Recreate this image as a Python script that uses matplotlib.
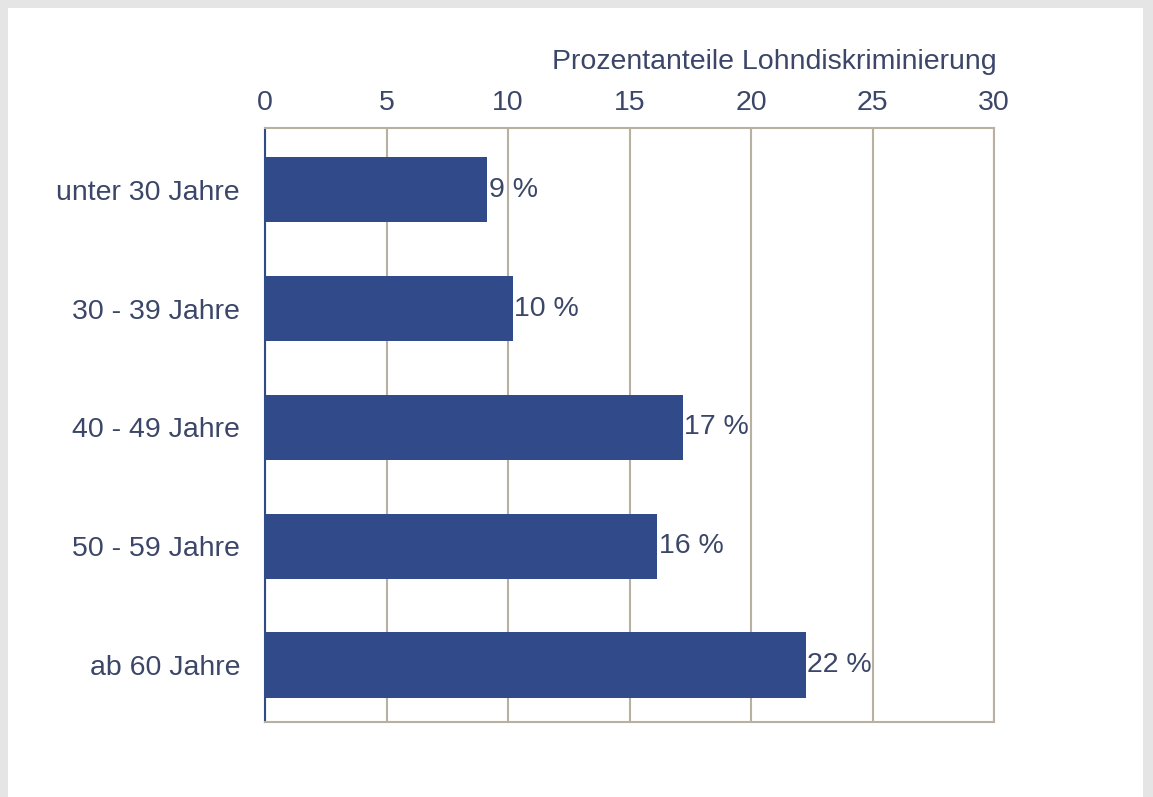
import matplotlib
matplotlib.use("Agg")
import matplotlib.pyplot as plt
from matplotlib.patches import Rectangle

categories = ["unter 30 Jahre", "30 - 39 Jahre", "40 - 49 Jahre", "50 - 59 Jahre", "ab 60 Jahre"]
values = [9.15, 10.2, 17.2, 16.15, 22.25]
labels = ["9 %", "10 %", "17 %", "16 %", "22 %"]
xticks = [0, 5, 10, 15, 20, 25, 30]

bar_color = "#314a8a"
text_color = "#3b4668"
grid_color = "#b8b0a0"
fsize = 20.5

plt.rcParams["font.family"] = ["Liberation Sans", "DejaVu Sans"]

fig = plt.figure(figsize=(11.53, 7.97), dpi=100)
fig.patch.set_facecolor("#e5e5e5")
# white card inside the grey frame
fig.patches.append(Rectangle((8 / 1153, 0), (1143 - 8) / 1153, 1 - 8 / 797,
                             transform=fig.transFigure, facecolor="white",
                             edgecolor="none", zorder=-5))

ax = fig.add_axes([265 / 1153, 1 - 722 / 797, (994 - 265) / 1153, (722 - 128) / 797])
ax.set_facecolor("white")

ypos = list(range(len(categories)))
ax.barh(ypos, values, height=0.55, color=bar_color, zorder=3)
for y, v, lab in zip(ypos, values, labels):
    ax.text(v + 0.05, y, lab, ha="left", va="center", fontsize=fsize, color=text_color, zorder=4)

ax.set_xlim(0, 30)
ax.set_ylim(4.48, -0.52)
ax.set_xticks(xticks)
ax.set_yticks(ypos)
ax.set_yticklabels(categories)
ax.xaxis.tick_top()
ax.tick_params(axis="both", length=0, labelsize=fsize, labelcolor=text_color)
ax.tick_params(axis="x", pad=9)
ax.tick_params(axis="y", pad=18)
ax.grid(axis="x", color=grid_color, linewidth=1.5, zorder=1)
ax.grid(axis="y", visible=False)

for side in ["top", "right", "bottom"]:
    ax.spines[side].set_color(grid_color)
    ax.spines[side].set_linewidth(1.5)
ax.spines["left"].set_color(bar_color)
ax.spines["left"].set_linewidth(1.5)

fig.text(997 / 1153, 1 - 62 / 797, "Prozentanteile Lohndiskriminierung",
         ha="right", va="center", fontsize=fsize, color=text_color)

fig.savefig("out.png", dpi=100, facecolor=fig.get_facecolor())
